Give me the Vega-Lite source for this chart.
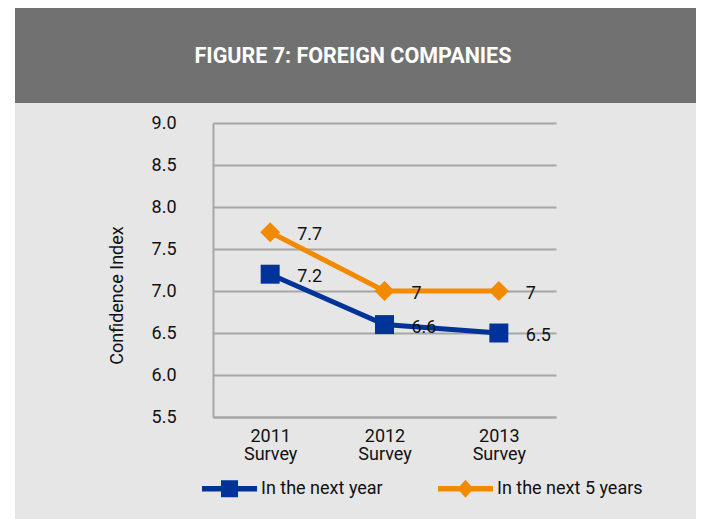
{
  "$schema": "https://vega.github.io/schema/vega-lite/v6.json",
  "background": "#e6e6e6",
  "padding": 0,
  "spacing": 0,
  "bounds": "flush",
  "config": {
    "view": {"stroke": null},
    "font": "Roboto"
  },
  "datasets": {
    "conf": [
      {"survey": "2011 Survey", "series": "In the next year", "value": 7.2},
      {"survey": "2012 Survey", "series": "In the next year", "value": 6.6},
      {"survey": "2013 Survey", "series": "In the next year", "value": 6.5},
      {"survey": "2011 Survey", "series": "In the next 5 years", "value": 7.7},
      {"survey": "2012 Survey", "series": "In the next 5 years", "value": 7},
      {"survey": "2013 Survey", "series": "In the next 5 years", "value": 7}
    ]
  },
  "hconcat": [
    {"width": 8, "height": 519, "view": {"fill": "white", "stroke": null}, "data": {"values": []}, "mark": "rect"},
    {
      "spacing": 0,
      "bounds": "flush",
      "vconcat": [
        {"width": 688, "height": 8, "view": {"fill": "white", "stroke": null}, "data": {"values": []}, "mark": "rect"},
        {
          "width": 688,
          "height": 95,
          "view": {"fill": "#717171", "stroke": null},
          "data": {"values": [{"t": "FIGURE 7: FOREIGN COMPANIES"}]},
          "mark": {"type": "text", "color": "white", "fontSize": 21.5, "fontWeight": "bold", "align": "center", "baseline": "middle", "dy": 1, "dx": 1},
          "encoding": {"text": {"field": "t"}}
        },
        {
          "spacing": 0,
          "bounds": "flush",
          "hconcat": [
            {"width": 205, "height": 416, "data": {"values": []}, "mark": "rect"},
            {
              "spacing": 0,
              "bounds": "flush",
              "vconcat": [
                {"width": 343, "height": 20, "data": {"values": []}, "mark": "rect"},
                {
                  "width": 343,
                  "height": 294,
                  "data": {"name": "conf"},
                  "encoding": {
                    "x": {
                      "field": "survey", "type": "nominal", "sort": null,
                      "scale": {"type": "point", "padding": 0.5},
                      "axis": {
                        "title": null, "labelAngle": 0, "ticks": false, "tickSize": 0,
                        "labelExpr": "split(datum.label, ' ')",
                        "labelFontSize": 18, "labelColor": "#111", "labelPadding": 10,
                        "labelLineHeight": 18, "labelBaseline": "top",
                        "domainColor": "#a6a6a6", "domainWidth": 2, "grid": false
                      }
                    },
                    "y": {
                      "field": "value", "type": "quantitative",
                      "scale": {"domain": [5.5, 9.0], "nice": false, "zero": false},
                      "axis": {
                        "title": "Confidence Index", "values": [5.5, 6, 6.5, 7, 7.5, 8, 8.5, 9],
                        "format": ".1f", "ticks": false, "tickSize": 0,
                        "labelFontSize": 18, "labelColor": "#111", "labelPadding": 37,
                        "domainColor": "#a6a6a6", "domainWidth": 2,
                        "gridColor": "#a6a6a6", "gridWidth": 2,
                        "titleFontSize": 18, "titleFontWeight": "normal", "titleColor": "#111",
                        "titleAngle": -90, "titleAlign": "center", "titleBaseline": "middle",
                        "titleX": -96, "titleY": 172
                      }
                    },
                    "color": {
                      "field": "series", "type": "nominal",
                      "scale": {"domain": ["In the next year", "In the next 5 years"], "range": ["#003399", "#f28a00"]},
                      "legend": {
                        "title": null, "orient": "none", "direction": "horizontal",
                        "legendX": 202, "legendY": 461,
                        "symbolSize": 3025, "symbolStrokeWidth": 0, "symbolOpacity": 1,
                        "labelFontSize": 18, "labelColor": "#111", "labelOffset": 4,
                        "columnPadding": 55
                      }
                    }
                  },
                  "layer": [
                    {
                      "transform": [{"filter": "false"}],
                      "mark": {"type": "point", "filled": true, "opacity": 1},
                      "encoding": {
                        "shape": {
                          "field": "series", "type": "nominal",
                          "scale": {
                            "domain": ["In the next year", "In the next 5 years"],
                            "range": ["M-1,-0.1H1V0.1H-1Z M-0.31,-0.31H0.31V0.31H-0.31Z", "M-1,-0.1H1V0.1H-1Z M-0.29,0L0,-0.33L0.29,0L0,0.33Z"]
                          },
                          "legend": {
                            "title": null, "orient": "none", "direction": "horizontal",
                            "legendX": 202, "legendY": 461,
                            "symbolSize": 3025, "symbolStrokeWidth": 0, "symbolOpacity": 1,
                            "labelFontSize": 18, "labelColor": "#111", "labelOffset": 4,
                            "columnPadding": 55
                          }
                        }
                      }
                    },
                    {"mark": {"type": "line", "strokeWidth": 5}},
                    {
                      "transform": [{"filter": "datum.series === 'In the next year'"}],
                      "mark": {"type": "point", "filled": true, "opacity": 1, "size": 360, "shape": "square"}
                    },
                    {
                      "transform": [{"filter": "datum.series === 'In the next 5 years'"}],
                      "mark": {"type": "point", "filled": true, "opacity": 1, "size": 400, "shape": "diamond"}
                    },
                    {
                      "mark": {"type": "text", "align": "left", "baseline": "middle", "dx": 27, "dy": 3, "fontSize": 18, "color": "#111"},
                      "encoding": {"text": {"field": "value", "type": "quantitative"}, "color": {"value": "#111"}}
                    }
                  ]
                }
              ]
            },
            {"width": 140, "height": 416, "data": {"values": []}, "mark": "rect"}
          ]
        }
      ]
    },
    {"width": 7, "height": 519, "view": {"fill": "white", "stroke": null}, "data": {"values": []}, "mark": "rect"}
  ]
}
